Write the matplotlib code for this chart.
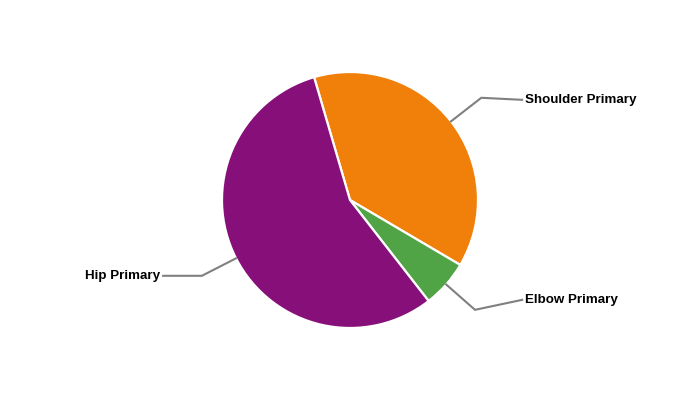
import numpy as np
import matplotlib
matplotlib.use("Agg")
import matplotlib.pyplot as plt

categories = ["Shoulder Primary", "Elbow Primary", "Hip Primary"]
values = [38, 6, 56]
colors = ["#F0800A", "#50A446", "#860F7A"]

# layout
start_deg = 106.3          # matplotlib angle (ccw from +x) where first slice starts
label_x = {"right": 1.37, "left": -1.485}
label_dy = [-0.016, 0.078, 0.0]

fig = plt.figure(figsize=(7, 4), dpi=100)
ax = fig.add_axes([222 / 700, 72 / 400, 256 / 700, 256 / 400])
wedges, _ = ax.pie(values, colors=colors, startangle=start_deg, counterclock=False,
                   radius=1.0, wedgeprops=dict(edgecolor="white", linewidth=1.6))
ax.set_xlim(-1, 1)
ax.set_ylim(-1, 1)
ax.set_aspect("equal")
ax.axis("off")

for w, name, dy in zip(wedges, categories, label_dy):
    mid = np.deg2rad((w.theta1 + w.theta2) / 2)
    x0, y0 = np.cos(mid) * 1.0, np.sin(mid) * 1.0
    x1, y1 = np.cos(mid) * 1.30, np.sin(mid) * 1.30
    side = "right" if x0 > 0 else "left"
    tx = label_x[side]
    ty = y1 + dy
    lx = tx - 0.025 if side == "right" else tx + 0.025
    ax.plot([x0, x1, lx], [y0, y1, ty], color="#808080", lw=1.5, clip_on=False,
            solid_joinstyle="miter")
    ax.text(tx, ty, name, ha="left" if side == "right" else "right", va="center",
            fontsize=9.6, fontweight="bold", family="Liberation Sans", color="black",
            clip_on=False)

fig.savefig("out.png", dpi=100, facecolor="white")
